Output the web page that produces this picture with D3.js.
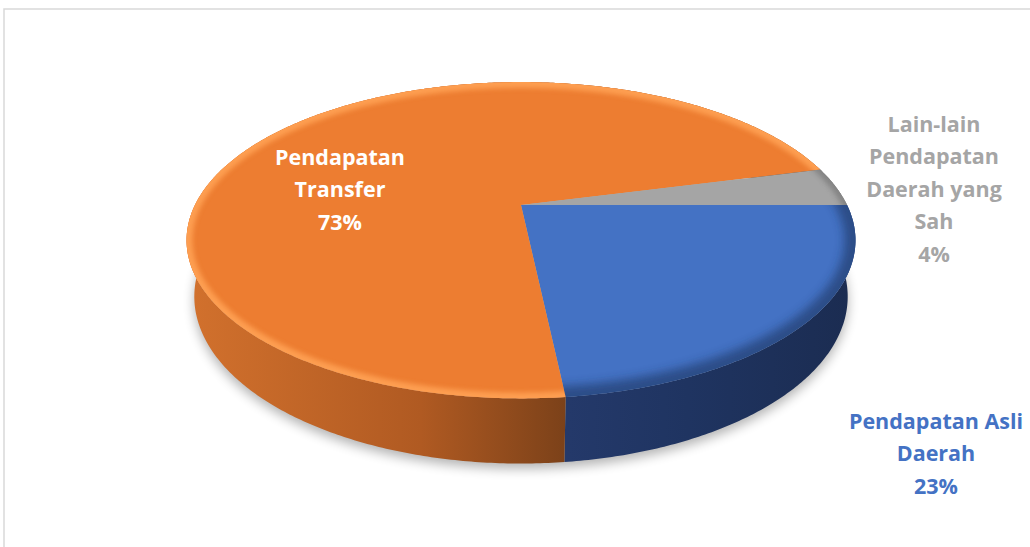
<!DOCTYPE html>
<html>
<head>
<meta charset="utf-8">
<script src="https://cdn.jsdelivr.net/npm/d3@7"></script>
<style>
  html, body { margin: 0; padding: 0; background: #fff; }
  svg { display: block; }
  text { font-family: "Open Sans", sans-serif; font-weight: 700; }
</style>
</head>
<body>
<svg id="chart" width="1030" height="547"></svg>
<script>
// data, in the order the slices run clockwise from 3 o'clock
var categories = ['Pendapatan Asli Daerah', 'Pendapatan Transfer', 'Lain-lain Pendapatan Daerah yang Sah'];
var values = [23.3, 72.7, 4.0];
var percentLabels = ['23%', '73%', '4%'];
var labelLines = [
  ['Pendapatan Asli', 'Daerah'],
  ['Pendapatan', 'Transfer'],
  ['Lain-lain', 'Pendapatan', 'Daerah yang', 'Sah']
];
var topColors = ['#4472C4', '#ED7D31', '#A5A5A5'];
var labelColors = ['#4472C4', '#FFFFFF', '#A5A5A5'];

// layout
var labelPos = [[936, 429], [340, 165], [934, 132]];
var lineGap = 32.4;

// perspective camera for the 3d pie
var cam = { cx: 521, cy: 205, F: 1299, R: 0.251, D: 1, s: 0.461, h: 0.049 };
cam.c = Math.sqrt(1 - cam.s * cam.s);

// theta clockwise from 12 o'clock, y = 0 top face, -h bottom
function proj(theta, y) {
  var X = cam.R * Math.sin(theta), Z = -cam.R * Math.cos(theta);
  var vx = X, vy = y - cam.D * cam.s, vz = Z - cam.D * cam.c;
  var dep = -(vy * cam.s + vz * cam.c);
  var up = vy * cam.c - vz * cam.s;
  return [cam.cx + cam.F * vx / dep, cam.cy - cam.F * up / dep];
}

function arcPts(a0, a1, y) {
  var n = Math.max(2, Math.ceil(Math.abs(a1 - a0) / 0.01));
  return d3.range(n + 1).map(function(i) { return proj(a0 + (a1 - a0) * i / n, y); });
}

var svg = d3.select('#chart');
var line = d3.line();

var pie = d3.pie().sort(null).startAngle(Math.PI / 2).endAngle(Math.PI / 2 + 2 * Math.PI);
var slices = pie(values);

var color = d3.scaleOrdinal().domain(categories).range(topColors);

var defs = svg.append('defs');
var blur = function(id, sd) {
  defs.append('filter').attr('id', id).attr('x', '-20%').attr('y', '-20%').attr('width', '140%').attr('height', '140%')
    .append('feGaussianBlur').attr('stdDeviation', sd);
};
blur('shadow', 6);
blur('soft', 2.5);
blur('soft2', 5);

var sideGrads = [
  ['#24396A', '#1F3461', '#1B2C51'],
  ['#D2712D', '#B05A22', '#7B4119'],
  ['#8a8a8a', '#7a7a7a', '#6a6a6a']
];
sideGrads.forEach(function(g, i) {
  var lg = defs.append('linearGradient').attr('id', 'side' + i)
    .attr('gradientUnits', 'userSpaceOnUse').attr('x1', 187).attr('x2', 855).attr('y1', 0).attr('y2', 0);
  lg.append('stop').attr('offset', i === 0 ? 0.57 : 0).attr('stop-color', g[0]);
  lg.append('stop').attr('offset', i === 0 ? 0.75 : 0.35).attr('stop-color', g[1]);
  lg.append('stop').attr('offset', i === 0 ? 1 : 0.57).attr('stop-color', g[2]);
});

// chart area border
svg.append('rect').attr('x', 4).attr('y', 9).attr('width', 1100).attr('height', 600)
  .attr('fill', 'none').attr('stroke', '#D9D9D9').attr('stroke-width', 1.5);

// shadow under the pie
var bottomRing = arcPts(0, 2 * Math.PI, -cam.h);
svg.append('path').attr('d', line(bottomRing) + 'Z')
  .attr('transform', 'translate(0,5)')
  .attr('fill', '#000').attr('opacity', 0.3).attr('filter', 'url(#shadow)');

// sides
var sides = svg.append('g');
slices.forEach(function(d, i) {
  var top = arcPts(d.startAngle, d.endAngle, 0);
  var bot = arcPts(d.startAngle, d.endAngle, -cam.h).reverse();
  sides.append('path').attr('d', line(top.concat(bot)) + 'Z')
    .attr('fill', 'url(#side' + i + ')');
});

// top faces
var topPath = function(d) {
  return line([[cam.cx, cam.cy]].concat(arcPts(d.startAngle, d.endAngle, 0))) + 'Z';
};
slices.forEach(function(d, i) {
  defs.append('clipPath').attr('id', 'clip' + i).append('path').attr('d', topPath(d));
});
var tops = svg.append('g');
tops.selectAll('path').data(slices).enter().append('path')
  .attr('d', topPath)
  .attr('fill', function(d, i) { return color(categories[i]); });

// bevel along the rim
var rim = line(arcPts(0, 2 * Math.PI, 0)) + 'Z';
tops.append('path').attr('d', rim).attr('clip-path', 'url(#clip1)')
  .attr('fill', 'none').attr('stroke', '#FFA255').attr('stroke-width', 12).attr('opacity', 0.9)
  .attr('filter', 'url(#soft)');
tops.append('path').attr('d', rim).attr('clip-path', 'url(#clip0)')
  .attr('fill', 'none').attr('stroke', '#1F3461').attr('stroke-width', 22).attr('opacity', 0.6)
  .attr('filter', 'url(#soft2)');
tops.append('path').attr('d', rim).attr('clip-path', 'url(#clip2)')
  .attr('fill', 'none').attr('stroke', '#6f6f6f').attr('stroke-width', 10).attr('opacity', 0.6)
  .attr('filter', 'url(#soft)');

// labels
var labels = svg.append('g');
slices.forEach(function(d, i) {
  var t = labels.append('text')
    .attr('text-anchor', 'middle')
    .attr('font-size', 21.5)
    .attr('fill', labelColors[i]);
  labelLines[i].concat([percentLabels[i]]).forEach(function(s, k) {
    t.append('tspan').attr('x', labelPos[i][0]).attr('y', labelPos[i][1] + k * lineGap).text(s);
  });
});
</script>
</body>
</html>
